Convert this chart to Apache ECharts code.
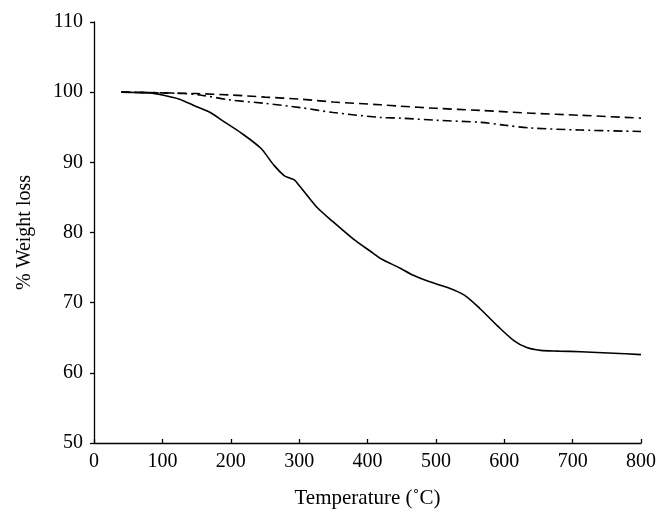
<!DOCTYPE html>
<html><head><meta charset="utf-8">
<script src="https://cdn.jsdelivr.net/npm/echarts@6/dist/echarts.min.js"></script>
<style>html,body{margin:0;padding:0;background:#fff}#c{width:668px;height:525px}</style>
</head><body><div id="c"></div>
<script>
const xTicks = [0,100,200,300,400,500,600,700,800];
const yTicks = [50,60,70,80,90,100,110];
const solidX = [40,60,82,100,125,146,170,190,215,244,263,278,285,293,300,306,326,350,379,409,419,448,467,490,516,541,565,590,614,633,653,680,712,760,800];
const solidY = [100,99.95,99.9,99.6,99.0,98.1,97.1,95.8,94.2,92.0,89.6,88.1,87.8,87.5,86.7,86.0,83.6,81.5,79.1,77.0,76.3,74.9,73.9,73.0,72.2,71.1,69.1,66.7,64.6,63.6,63.2,63.1,63.0,62.8,62.6];
const dashX = [40,80,100,150,199,250,302,350,419,448,500,565,640,712,800];
const dashY = [100,99.95,99.9,99.8,99.6,99.3,99.0,98.6,98.2,98.0,97.7,97.4,97.0,96.7,96.3];
const dotDashX = [40,80,100,130,155,199,250,302,350,419,448,500,565,600,638,712,800];
const dotDashY = [100,99.95,99.9,99.8,99.6,98.9,98.4,97.8,97.1,96.4,96.3,96.0,95.7,95.3,94.9,94.6,94.4];

const zip = (a,b)=>a.map((v,i)=>[v,b[i]]);
const font = 'Liberation Serif';
const chart = echarts.init(document.getElementById('c'));
chart.setOption({
  animation:false,
  backgroundColor:'#fff',
  grid:{left:94,right:27,top:22,bottom:82},
  xAxis:{type:'value',min:xTicks[0],max:xTicks[xTicks.length-1],interval:100,
    name:'Temperature (˚C)',nameLocation:'middle',nameGap:45,
    nameTextStyle:{fontFamily:font,fontSize:21,color:'#000'},
    axisLine:{lineStyle:{color:'#000',width:1.3}},
    axisTick:{inside:true,length:4,lineStyle:{color:'#000',width:1.3}},
    axisLabel:{fontFamily:font,fontSize:20,color:'#000',margin:9},
    splitLine:{show:false}},
  yAxis:{type:'value',min:yTicks[0],max:yTicks[yTicks.length-1],interval:10,
    name:'% Weight loss',nameLocation:'middle',nameGap:59,
    nameTextStyle:{fontFamily:font,fontSize:20,color:'#000'},
    axisLine:{show:true,lineStyle:{color:'#000',width:1.3}},
    axisTick:{show:true,length:4,lineStyle:{color:'#000',width:1.3}},
    axisLabel:{fontFamily:font,fontSize:20,color:'#000',margin:11},
    splitLine:{show:false}},
  series:[
    {type:'line',data:zip(solidX,solidY),smooth:0.3,showSymbol:false,
     lineStyle:{color:'#000',width:1.6}},
    {type:'line',data:zip(dashX,dashY),smooth:0.3,showSymbol:false,
     lineStyle:{color:'#000',width:1.6,type:[9,5]}},
    {type:'line',data:zip(dotDashX,dotDashY),smooth:0.3,showSymbol:false,
     lineStyle:{color:'#000',width:1.6,type:[9,4,2,4]}}
  ]
});
</script></body></html>
